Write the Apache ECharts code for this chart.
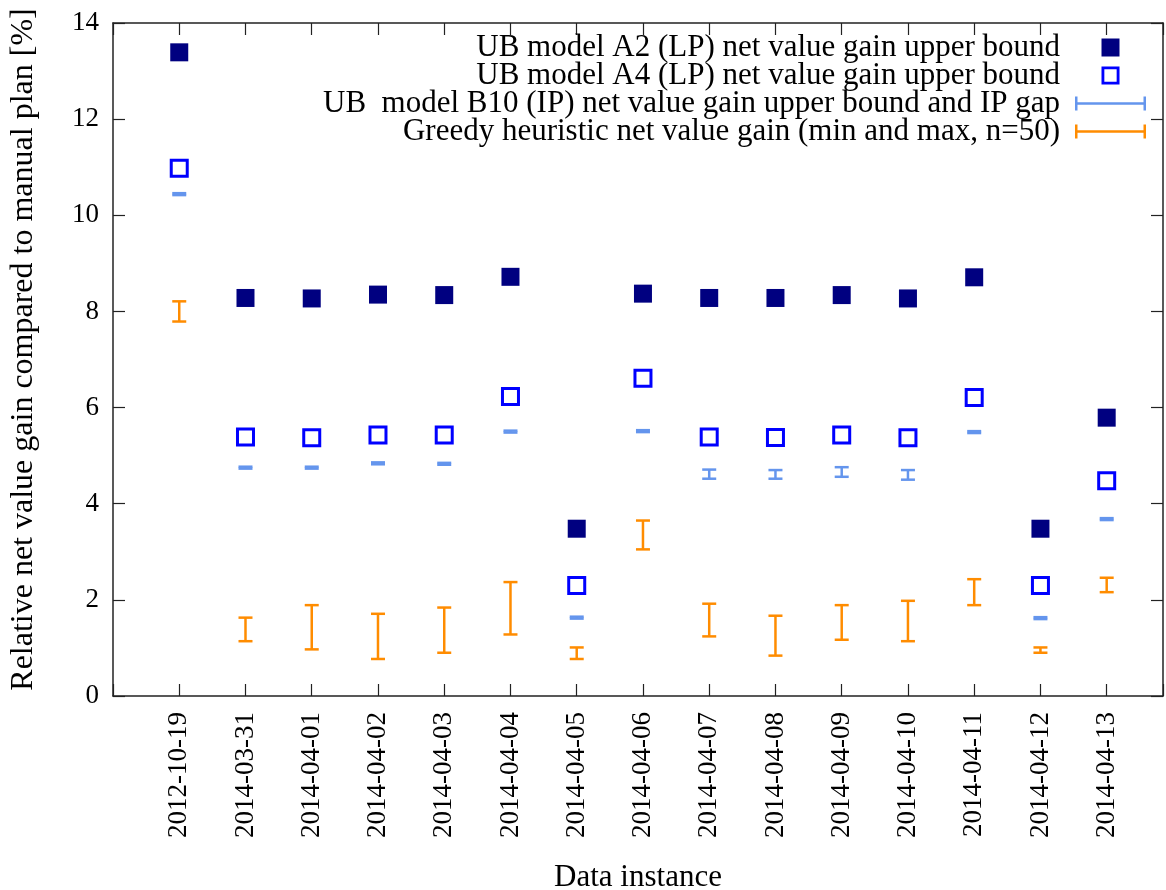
<!DOCTYPE html>
<html>
<head>
<meta charset="utf-8">
<script src="https://cdn.jsdelivr.net/npm/echarts@6/dist/echarts.min.js"></script>
<style>
  html, body { margin: 0; padding: 0; background: #ffffff; }
  #chart { width: 1166px; height: 890px; }
</style>
</head>
<body>
<div id="chart"></div>
<script>
const categories = ['2012-10-19','2014-03-31','2014-04-01','2014-04-02','2014-04-03','2014-04-04','2014-04-05','2014-04-06','2014-04-07','2014-04-08','2014-04-09','2014-04-10','2014-04-11','2014-04-12','2014-04-13'];
const yTicks = [0, 2, 4, 6, 8, 10, 12, 14];
const seriesNames = [
  'UB model A2 (LP) net value gain upper bound',
  'UB model A4 (LP) net value gain upper bound',
  'UB  model B10 (IP) net value gain upper bound and IP gap',
  'Greedy heuristic net value gain (min and max, n=50)'
];
const a2Values = [13.39, 8.28, 8.27, 8.35, 8.34, 8.72, 3.48, 8.37, 8.28, 8.28, 8.34, 8.27, 8.71, 3.48, 5.79];
const a4Values = [10.98, 5.39, 5.37, 5.43, 5.43, 6.23, 2.30, 6.61, 5.39, 5.38, 5.43, 5.37, 6.21, 2.30, 4.48];
const b10Low  = [10.42, 4.73, 4.73, 4.82, 4.81, 5.48, 1.61, 5.49, 4.52, 4.52, 4.56, 4.50, 5.47, 1.60, 3.66];
const b10High = [10.46, 4.77, 4.77, 4.86, 4.85, 5.52, 1.65, 5.53, 4.71, 4.70, 4.76, 4.70, 5.51, 1.64, 3.70];
const greedyLow  = [7.79, 1.14, 0.97, 0.77, 0.90, 1.28, 0.77, 3.05, 1.24, 0.84, 1.17, 1.14, 1.89, 0.90, 2.16];
const greedyHigh = [8.21, 1.63, 1.89, 1.71, 1.84, 2.37, 1.01, 3.65, 1.92, 1.67, 1.89, 1.98, 2.43, 1.01, 2.46];

const FONT = 'Liberation Serif';
const AXIS_COLOR = '#222';

function errRender(color) {
  return function (params, api) {
    const x = api.value(0), lo = api.value(1), hi = api.value(2);
    const p1 = api.coord([x, lo]);
    const p2 = api.coord([x, hi]);
    const hw = 7;
    const style = { stroke: color, lineWidth: 2.5, fill: null };
    return {
      type: 'group',
      children: [
        { type: 'line', shape: { x1: p1[0], y1: p1[1], x2: p2[0], y2: p2[1] }, style: style },
        { type: 'line', shape: { x1: p1[0] - hw, y1: p1[1], x2: p1[0] + hw, y2: p1[1] }, style: style },
        { type: 'line', shape: { x1: p2[0] - hw, y1: p2[1], x2: p2[0] + hw, y2: p2[1] }, style: style }
      ]
    };
  };
}

const errIcon = 'path://M0,0h2.5v14h-2.5z M0,5.75h71v2.5h-71z M68.5,0h2.5v14h-2.5z';

const xCommon = {
  type: 'value', min: -1, max: 14.85, interval: 1,
  splitLine: { show: false },
  axisLine: { show: true, onZero: false, lineStyle: { color: AXIS_COLOR, width: 1.5 } },
  axisTick: { show: true, inside: true, length: 12, lineStyle: { color: AXIS_COLOR, width: 1.2 } }
};
const yCommon = {
  type: 'value', min: yTicks[0], max: yTicks[yTicks.length - 1], interval: yTicks[1] - yTicks[0],
  splitLine: { show: false },
  axisLine: { show: true, onZero: false, lineStyle: { color: AXIS_COLOR, width: 1.5 } },
  axisTick: { show: true, inside: true, length: 12, lineStyle: { color: AXIS_COLOR, width: 1.2 } }
};

const chart = echarts.init(document.getElementById('chart'), null, { renderer: 'canvas' });
chart.setOption({
  animation: false,
  backgroundColor: '#ffffff',
  grid: { left: 113, right: 3, top: 23, bottom: 194, containLabel: false, outerBoundsMode: 'none' },
  legend: {
    orient: 'vertical',
    right: 15,
    top: 27,
    align: 'right',
    itemWidth: 71,
    itemHeight: 18,
    itemGap: -3,
    selectedMode: false,
    textStyle: { fontFamily: FONT, fontSize: 31, color: '#000', lineHeight: 29, padding: [0, 10, 0, 0] },
    data: [
      { name: seriesNames[0], icon: 'path://M0,0h10v10h-10z', itemStyle: { color: '#000080', borderWidth: 0 } },
      { name: seriesNames[1], icon: 'path://M0,0h19v19h-19z M3,3v13h13v-13z', itemStyle: { color: '#0000ff', borderWidth: 0 } },
      { name: seriesNames[2], icon: errIcon, itemStyle: { color: '#6495ed', borderWidth: 0 } },
      { name: seriesNames[3], icon: errIcon, itemStyle: { color: '#ff8c00', borderWidth: 0 } }
    ]
  },
  xAxis: [
    Object.assign({}, xCommon, {
      position: 'bottom',
      name: 'Data instance', nameLocation: 'middle', nameGap: 166,
      nameTextStyle: { fontFamily: FONT, fontSize: 31, color: '#000' },
      axisLabel: {
        rotate: 90, margin: 16, fontFamily: FONT, fontSize: 27, color: '#000',
        formatter: function (v) {
          return (Number.isInteger(v) && v >= 0 && v < categories.length) ? categories[v] : '';
        }
      }
    }),
    Object.assign({}, xCommon, { position: 'top', axisLabel: { show: false } })
  ],
  yAxis: [
    Object.assign({}, yCommon, {
      position: 'left',
      name: 'Relative net value gain compared to manual plan [%]',
      nameLocation: 'middle', nameRotate: 90, nameGap: 73,
      nameTextStyle: { fontFamily: FONT, fontSize: 32, color: '#000', padding: [0, 0, 0, 20] },
      axisLabel: { margin: 14, fontFamily: FONT, fontSize: 27, color: '#000' }
    }),
    Object.assign({}, yCommon, { position: 'right', axisLabel: { show: false } })
  ],
  series: [
    {
      name: seriesNames[0], type: 'scatter', xAxisIndex: 0, yAxisIndex: 0,
      symbol: 'rect', symbolSize: 18,
      itemStyle: { color: '#000080', opacity: 1 },
      data: categories.map(function (c, i) { return [i, a2Values[i]]; }),
      z: 3
    },
    {
      name: seriesNames[1], type: 'scatter', xAxisIndex: 0, yAxisIndex: 0,
      symbol: 'rect', symbolSize: 16,
      itemStyle: { color: 'rgba(255,255,255,0)', borderColor: '#0000ff', borderWidth: 3, opacity: 1 },
      data: categories.map(function (c, i) { return [i, a4Values[i]]; }),
      z: 3
    },
    {
      name: seriesNames[2], type: 'custom', xAxisIndex: 0, yAxisIndex: 0,
      renderItem: errRender('#6495ed'),
      itemStyle: { color: '#6495ed' },
      encode: { x: 0, y: [1, 2] },
      data: categories.map(function (c, i) { return [i, b10Low[i], b10High[i]]; }),
      z: 2
    },
    {
      name: seriesNames[3], type: 'custom', xAxisIndex: 0, yAxisIndex: 0,
      renderItem: errRender('#ff8c00'),
      itemStyle: { color: '#ff8c00' },
      encode: { x: 0, y: [1, 2] },
      data: categories.map(function (c, i) { return [i, greedyLow[i], greedyHigh[i]]; }),
      z: 2
    }
  ]
});
</script>
</body>
</html>
